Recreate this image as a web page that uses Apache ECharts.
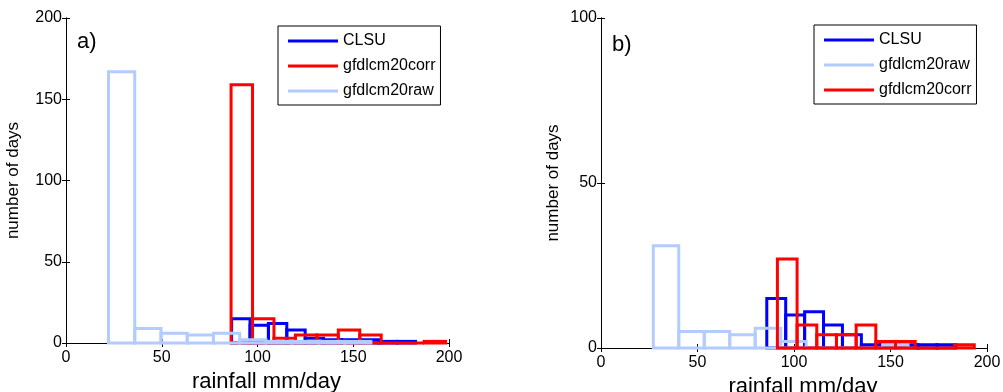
<!DOCTYPE html>
<html>
<head>
<meta charset="utf-8">
<script src="https://cdn.jsdelivr.net/npm/echarts@6/dist/echarts.min.js"></script>
<style>
  html, body { margin: 0; background: #fff; }
  #chart { width: 1003px; height: 392px; }
</style>
</head>
<body>
<div id="chart"></div>
<script>
// panel a) : bin edges (mm/day) and counts (days)
const clsuEdgesA = [86.5, 96.1, 105.7, 115.3, 124.9, 134.5, 144.1, 153.7, 163.3, 172.9, 182.5];
const clsuCountsA = [15, 11, 12, 8, 3, 2, 2, 2, 1, 1];
const corrEdgesA = [86.2, 97.4, 108.6, 119.8, 131.0, 142.2, 153.4, 164.6, 175.8, 187.0, 198.2];
const corrCountsA = [159, 15, 3, 5, 5, 8, 5, 0, 0, 1];
const rawEdgesA = [22.2, 35.9, 49.6, 63.3, 77.0, 90.7, 104.4, 118.1, 131.8, 145.5, 159.2];
const rawCountsA = [167, 9, 6, 5, 6, 2, 1, 1, 1, 1];

// panel b)
const clsuEdgesB = [85.9, 95.7, 105.5, 115.3, 125.1, 134.9, 144.7, 154.5, 164.3, 174.1, 183.9];
const clsuCountsB = [15, 10, 11, 7, 4, 1, 1, 1, 1, 1];
const rawEdgesB = [27.1, 40.3, 53.5, 66.7, 79.9, 93.1, 106.3, 119.5, 132.7, 145.9, 159.1];
const rawCountsB = [31, 5, 5, 4, 6, 2, 0, 0, 0, 1];
const corrEdgesB = [91.4, 101.6, 111.8, 122.0, 132.2, 142.4, 152.6, 162.8, 173.0, 183.2, 193.4];
const corrCountsB = [27, 7, 4, 4, 7, 2, 2, 0, 0, 1];

const FONT = '"Liberation Sans", Arial, sans-serif';
const BLUE = '#0000ff';
const RED = '#ff0000';
const LIGHT = '#b3ccff';

// outline-only histogram bars (matlab hist style)
function histSeries(name, color, edges, counts, panel) {
  const data = counts.map((c, i) => [edges[i], edges[i + 1], c]);
  return {
    name: name,
    type: 'custom',
    xAxisIndex: panel * 2,
    yAxisIndex: panel * 2,
    itemStyle: { color: color },
    encode: { x: [0, 1], y: 2 },
    clip: false,
    renderItem: (params, api) => {
      const top = api.coord([api.value(0), api.value(2)]);
      const bot = api.coord([api.value(1), 0]);
      return {
        type: 'rect',
        shape: { x: top[0], y: top[1], width: bot[0] - top[0], height: bot[1] - top[1] },
        style: { fill: 'none', stroke: color, lineWidth: 3 }
      };
    },
    data: data
  };
}

const tickLabel = { fontSize: 16, color: '#000', fontFamily: FONT };
const axisLine = { show: true, lineStyle: { color: '#000', width: 1 } };
const tickIn = { show: true, inside: true, length: 4, lineStyle: { color: '#000' } };

function xAxes(grid) {
  return [
    {
      type: 'value', gridIndex: grid, min: 0, max: 200, interval: 50,
      axisLine: axisLine, axisTick: tickIn, splitLine: { show: false },
      axisLabel: Object.assign({ margin: 7 }, tickLabel),
      name: 'rainfall mm/day', nameLocation: 'middle', nameGap: 25,
      nameTextStyle: { fontSize: 22, color: '#000', fontFamily: FONT, padding: [0, 0, 0, 18] }
    },
    {
      type: 'value', gridIndex: grid, position: 'top', min: 0, max: 200, interval: 50,
      axisLine: axisLine, axisTick: tickIn, axisLabel: { show: false }, splitLine: { show: false }
    }
  ];
}

function yAxes(grid, max, gap) {
  return [
    {
      type: 'value', gridIndex: grid, min: 0, max: max, interval: 50,
      axisLine: axisLine, axisTick: tickIn, splitLine: { show: false },
      axisLabel: Object.assign({ margin: 4 }, tickLabel),
      name: 'number of days', nameLocation: 'middle', nameGap: gap,
      nameTextStyle: { fontSize: 17, color: '#000', fontFamily: FONT }
    },
    {
      type: 'value', gridIndex: grid, position: 'right', min: 0, max: max, interval: 50,
      axisLine: axisLine, axisTick: tickIn, axisLabel: { show: false }, splitLine: { show: false }
    }
  ];
}

function legend(left, top, names) {
  return {
    left: left, top: top, orient: 'vertical', icon: 'rect',
    itemWidth: 50, itemHeight: 3, itemGap: 9,
    padding: [7, 5, 6, 10],
    borderColor: '#000', borderWidth: 1, backgroundColor: '#fff',
    selectedMode: false,
    textStyle: { fontSize: 16, color: '#000', fontFamily: FONT },
    data: names
  };
}

const chart = echarts.init(document.getElementById('chart'), null, { renderer: 'canvas' });
chart.setOption({
  animation: false,
  backgroundColor: '#fff',
  grid: [
    { left: 66, top: 18, width: 383, height: 325, outerBoundsMode: 'none', containLabel: false },
    { left: 601, top: 18, width: 386, height: 330, outerBoundsMode: 'none', containLabel: false }
  ],
  xAxis: xAxes(0).concat(xAxes(1)),
  yAxis: yAxes(0, 200, 44).concat(yAxes(1, 100, 39)),
  legend: [
    legend(278, 26, ['CLSU', 'gfdlcm20corr', 'gfdlcm20raw']),
    legend(814, 25, ['CLSU', 'gfdlcm20raw', 'gfdlcm20corr'])
  ],
  title: [
    { text: 'a)', left: 72, top: 26, textStyle: { fontSize: 22, fontWeight: 'normal', color: '#000', fontFamily: FONT } },
    { text: 'b)', left: 607, top: 29, textStyle: { fontSize: 22, fontWeight: 'normal', color: '#000', fontFamily: FONT } }
  ],
  series: [
    histSeries('CLSU', BLUE, clsuEdgesA, clsuCountsA, 0),
    histSeries('gfdlcm20corr', RED, corrEdgesA, corrCountsA, 0),
    histSeries('gfdlcm20raw', LIGHT, rawEdgesA, rawCountsA, 0),
    histSeries('CLSU', BLUE, clsuEdgesB, clsuCountsB, 1),
    histSeries('gfdlcm20raw', LIGHT, rawEdgesB, rawCountsB, 1),
    histSeries('gfdlcm20corr', RED, corrEdgesB, corrCountsB, 1)
  ]
});
</script>
</body>
</html>
